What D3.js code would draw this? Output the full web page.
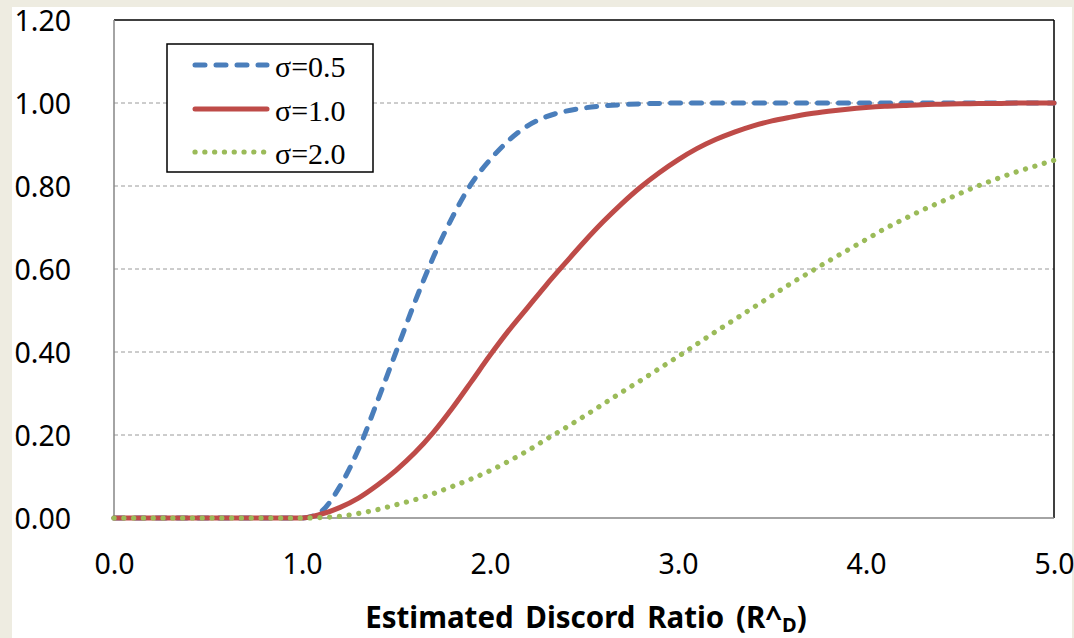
<!DOCTYPE html>
<html>
<head>
<meta charset="utf-8">
<script src="https://cdn.jsdelivr.net/npm/d3@7"></script>
<style>
  html, body { margin: 0; padding: 0; background: #eeece1; }
  svg { display: block; }
</style>
</head>
<body>
<svg id="chart" width="1074" height="638"></svg>
<script>
// ---- data ----
const xValues = [0.0,0.1,0.2,0.3,0.4,0.5,0.6,0.7,0.8,0.9,1.0,1.1,1.2,1.3,1.4,1.5,1.6,1.7,1.8,1.9,2.0,2.1,2.2,2.3,2.4,2.5,2.6,2.7,2.8,2.9,3.0,3.1,3.2,3.3,3.4,3.5,3.6,3.7,3.8,3.9,4.0,4.1,4.2,4.3,4.4,4.5,4.6,4.7,4.8,4.9,5.0];
const sigma05 = [0,0,0,0,0,0,0,0,0,0,0,
  0.015,0.075,0.165,0.28,0.40,0.52,0.63,0.725,0.805,0.863,0.91,0.945,0.967,0.98,0.988,0.993,0.996,0.998,0.999,
  1,1,1,1,1,1,1,1,1,1,1,1,1,1,1,1,1,1,1,1,1];
const sigma10 = [0,0,0,0,0,0,0,0,0,0,0,
  0.009,0.025,0.048,0.079,0.115,0.157,0.207,0.265,0.328,0.392,0.452,0.507,0.562,0.614,0.665,0.713,0.757,0.797,0.832,
  0.863,0.89,0.912,0.93,0.945,0.957,0.966,0.974,0.98,0.985,0.989,0.992,0.994,0.996,0.997,0.998,0.999,0.999,1,1,1];
const sigma20 = [0,0,0,0,0,0,0,0,0,0,0,
  0.001,0.004,0.011,0.02,0.032,0.044,0.059,0.076,0.094,0.114,0.137,0.162,0.19,0.217,0.245,0.274,0.303,0.331,0.36,
  0.389,0.419,0.449,0.478,0.507,0.536,0.565,0.592,0.619,0.645,0.671,0.697,0.72,0.742,0.762,0.782,0.801,0.818,0.834,0.848,0.862];
const seriesNames = ["σ=0.5", "σ=1.0", "σ=2.0"];
const xTicks = [0,1,2,3,4,5];
const yTicks = [0,0.2,0.4,0.6,0.8,1.0,1.2];
const gridTicks = [0.2,0.4,0.6,0.8,1.0];
const xTitle = "Estimated Discord Ratio (R^";
const xTitleSub = "D";

// ---- layout ----
const svg = d3.select("#chart");
const L = 114, R = 1054, T = 20, B = 518;

svg.append("rect").attr("x", 12).attr("y", 7).attr("width", 1060).attr("height", 631).attr("fill", "#ffffff");

const x = d3.scaleLinear().domain([0, 5]).range([L, R]);
const y = d3.scaleLinear().domain([0, 1.2]).range([B, T]);

// gridlines
svg.append("g").selectAll("line").data(gridTicks).join("line")
  .attr("x1", L).attr("x2", R)
  .attr("y1", d => y(d)).attr("y2", d => y(d))
  .attr("stroke", "#9a9a9a").attr("stroke-width", 1).attr("stroke-dasharray", "4 3");

// axes
const fontTicks = "'Noto Sans', 'DejaVu Sans', sans-serif";
const yAxis = svg.append("g").attr("transform", `translate(${L},0)`)
  .call(d3.axisLeft(y).tickValues(yTicks).tickFormat(d3.format(".2f")).tickSize(0).tickPadding(43));
yAxis.select(".domain").remove();
yAxis.selectAll("text").attr("font-family", fontTicks).attr("font-size", 28.5).attr("fill", "#000").attr("dy", "0.38em");

const xAxis = svg.append("g").attr("transform", `translate(0,${B})`)
  .call(d3.axisBottom(x).tickValues(xTicks).tickFormat(d3.format(".1f")).tickSize(0).tickPadding(36));
xAxis.select(".domain").remove();
xAxis.selectAll("text").attr("font-family", fontTicks).attr("font-size", 28.5).attr("fill", "#000");

// plot border: top/right black, left/bottom gray
svg.append("line").attr("x1", L).attr("x2", R).attr("y1", T).attr("y2", T).attr("stroke", "#000").attr("stroke-width", 1.5);
svg.append("line").attr("x1", R).attr("x2", R).attr("y1", T).attr("y2", B).attr("stroke", "#000").attr("stroke-width", 1.5);
svg.append("line").attr("x1", L).attr("x2", L).attr("y1", T).attr("y2", B).attr("stroke", "#868686").attr("stroke-width", 1.5);
svg.append("line").attr("x1", L).attr("x2", R).attr("y1", B).attr("y2", B).attr("stroke", "#868686").attr("stroke-width", 1.5);

// series
const styles = [
  { color: "#4a7ebb", dash: "10 11", width: 5 },
  { color: "#be4b48", dash: null, width: 5 },
  { color: "#9bbb59", dash: "0.1 9.7", width: 5.2 }
];
const seriesData = [sigma05, sigma10, sigma20];
const line = d3.line().x(d => x(d[0])).y(d => y(d[1])).curve(d3.curveMonotoneX);

seriesData.forEach((vals, i) => {
  const pts = xValues.map((xv, j) => [xv, vals[j]]);
  svg.append("path").datum(pts)
    .attr("d", line)
    .attr("fill", "none")
    .attr("stroke", styles[i].color)
    .attr("stroke-width", styles[i].width)
    .attr("stroke-linecap", "round")
    .attr("stroke-linejoin", "round")
    .attr("stroke-dasharray", styles[i].dash);
});

// legend
const lg = svg.append("g");
lg.append("rect").attr("x", 167).attr("y", 44).attr("width", 206).attr("height", 128)
  .attr("fill", "#fff").attr("stroke", "#000").attr("stroke-width", 1.5);
const rowsY = [65, 109, 152];
seriesNames.forEach((name, i) => {
  lg.append("line").attr("x1", 195).attr("x2", 267).attr("y1", rowsY[i]).attr("y2", rowsY[i])
    .attr("stroke", styles[i].color).attr("stroke-width", styles[i].width)
    .attr("stroke-linecap", "round").attr("stroke-dasharray", styles[i].dash);
  lg.append("text").attr("x", 275).attr("y", rowsY[i] + 11.5)
    .attr("font-family", "'Liberation Serif', 'Times New Roman', serif")
    .attr("font-size", 30).attr("fill", "#000").text(name);
});

// x title
const title = svg.append("text")
  .attr("x", (L + R) / 2 + 2).attr("y", 628)
  .attr("text-anchor", "middle")
  .attr("font-family", fontTicks).attr("font-weight", "bold").attr("font-size", 29.5)
  .attr("word-spacing", 4).attr("fill", "#000");
title.append("tspan").text(xTitle);
title.append("tspan").attr("font-size", 20).attr("dy", 4).text(xTitleSub);
title.append("tspan").attr("dy", -4).text(")");
</script>
</body>
</html>
